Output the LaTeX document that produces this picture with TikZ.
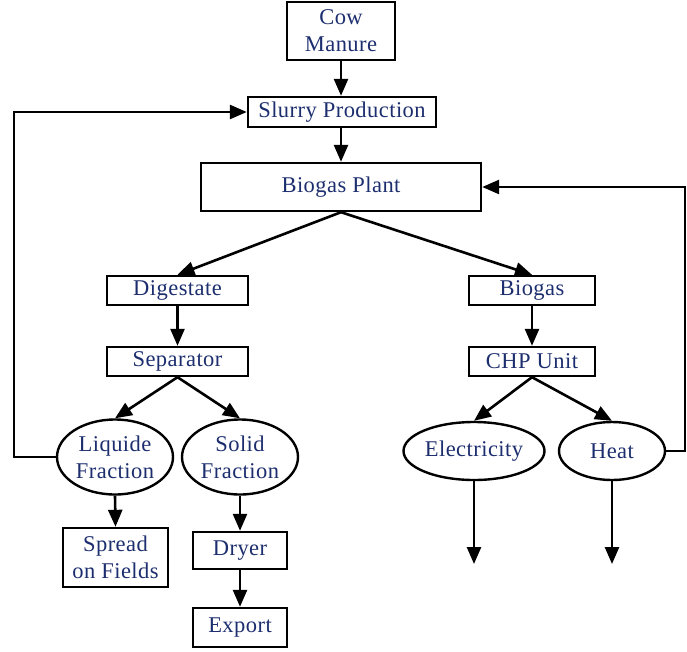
\documentclass[tikz,border=0pt]{standalone}
\usepackage{fontspec}
\setmainfont{Liberation Serif}
\usetikzlibrary{shapes.geometric,arrows.meta}
\definecolor{labelblue}{RGB}{28,46,110}
\begin{document}
\begin{tikzpicture}[x=1pt,y=-1pt,
  every node/.style={text=labelblue, font=\fontsize{22.5}{27}\selectfont\addfontfeature{LetterSpace=2}, align=center, inner sep=0pt},
  box/.style={draw=black, line width=2.4pt, rectangle},
  oval/.style={draw=black, line width=2.4pt, ellipse},
  flow/.style={draw=black, line width=2.6pt, -{Triangle[length=17pt,width=14pt]}}]
\useasboundingbox (0,0) rectangle (687,651);

% process boxes
\node[box, minimum width=108, minimum height=58] (cow) at (341,31) {Cow\\Manure};
\node[box, minimum width=188, minimum height=30] (slurry) at (342,112) {Slurry Production};
\node[box, minimum width=280, minimum height=48] (plant) at (341,187) {Biogas Plant};
\node[box, minimum width=141, minimum height=29] (dig) at (177.5,290.5) {Digestate};
\node[box, minimum width=126, minimum height=29] (biogas) at (532,290.5) {Biogas};
\node[box, minimum width=141, minimum height=29] (sep) at (177.5,361.5) {Separator};
\node[box, minimum width=126, minimum height=29] (chp) at (532,361.5) {CHP Unit};

% products
\node[oval, minimum width=116, minimum height=75] (liq) at (115,457) {Liquide\\Fraction};
\node[oval, minimum width=116, minimum height=75] (solid) at (240,457) {Solid\\Fraction};
\node[oval, minimum width=141, minimum height=58] (elec) at (474,451) {Electricity};
\node[oval, minimum width=106, minimum height=58] (heat) at (612,451) {Heat};

% final uses
\node[box, minimum width=105, minimum height=59] (spread) at (115.5,557.5) {Spread\\on Fields};
\node[box, minimum width=94, minimum height=37] (dryer) at (240,550.5) {Dryer};
\node[box, minimum width=94, minimum height=39] (export) at (240,627.5) {Export};

% free ends and bends
\coordinate (elecout) at (474,564);
\coordinate (heatout) at (612,564);
\coordinate (loopL) at (14,457);
\coordinate (loopR) at (685,451);

% main flow
\draw[flow] (cow.south) -- (cow.south |- slurry.north);
\draw[flow] (cow.south |- slurry.south) -- (cow.south |- plant.north);
\draw[flow] (plant.south) -- (dig.north);
\draw[flow] (plant.south) -- (biogas.north);
\draw[flow] (dig.south) -- (sep.north);
\draw[flow] (biogas.south) -- (chp.north);
\draw[flow] (sep.south) -- (liq.north);
\draw[flow] (sep.south) -- (solid.north);
\draw[flow] (chp.south) -- (elec.north);
\draw[flow] (chp.south) -- (heat.north);
\draw[flow] (liq.south) -- (spread.north);
\draw[flow] (solid.south) -- (dryer.north);
\draw[flow] (dryer.south) -- (export.north);
\draw[flow] (elec.south) -- (elecout);
\draw[flow] (heat.south) -- (heatout);

% recirculation loops
\draw[flow] (liq.west) -- (loopL) |- (slurry.west);
\draw[flow] (heat.east) -- (loopR) |- (plant.east);
\end{tikzpicture}
\end{document}
